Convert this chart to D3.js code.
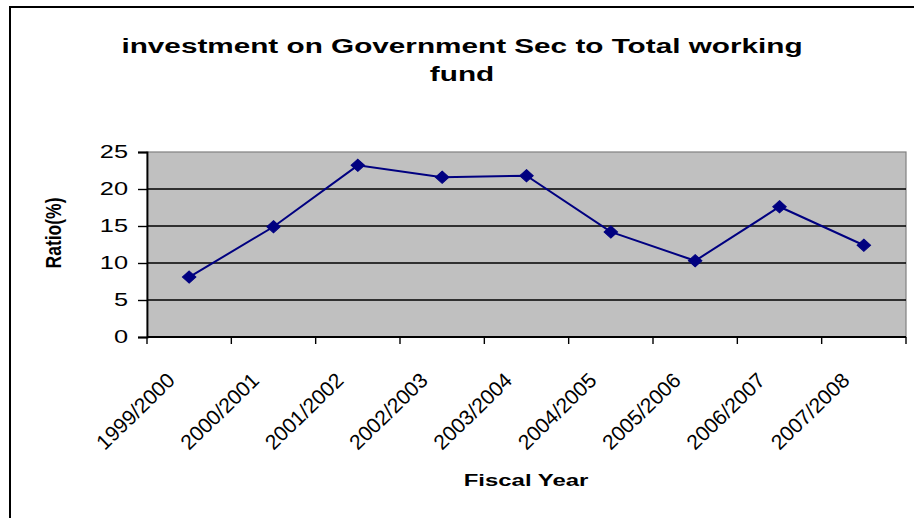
<!DOCTYPE html>
<html>
<head>
<meta charset="utf-8">
<script src="https://cdn.jsdelivr.net/npm/d3@7"></script>
<style>
  html, body { margin: 0; padding: 0; background: #fff; }
  svg { display: block; }
  text { font-family: "Liberation Sans", Arial, sans-serif; fill: #000; }
</style>
</head>
<body>
<svg id="chart" width="914" height="518"></svg>
<script>
// Fiscal years and the ratio of government securities investment to total working fund (%)
const fiscalYears = ["1999/2000", "2000/2001", "2001/2002", "2002/2003", "2003/2004",
                     "2004/2005", "2005/2006", "2006/2007", "2007/2008"];
const ratioValues = [8.1, 14.9, 23.2, 21.6, 21.8, 14.2, 10.3, 17.6, 12.4];
const yTicks = [0, 5, 10, 15, 20, 25];
const titleLines = ["investment on Government Sec to Total working", "fund"];
const xTitle = "Fiscal Year";
const yTitle = "Ratio(%)";

const W = 914, H = 518;
const plot = { left: 147, right: 906, top: 152, bottom: 337 };
const stretch = 1.45; // glyphs are drawn wide

const svg = d3.select("#chart");

// chart frame
svg.append("rect")
  .attr("x", 10).attr("y", 7)
  .attr("width", W + 20).attr("height", H + 20)
  .attr("fill", "#fff").attr("stroke", "#000").attr("stroke-width", 2);

const x = d3.scaleBand().domain(fiscalYears).range([plot.left, plot.right]).padding(0);
const y = d3.scaleLinear().domain([0, 25]).range([plot.bottom, plot.top]);
const cx = d => x(d) + x.bandwidth() / 2;

// plot background
svg.append("rect")
  .attr("x", plot.left).attr("y", plot.top)
  .attr("width", plot.right - plot.left).attr("height", plot.bottom - plot.top)
  .attr("fill", "#C0C0C0").attr("stroke", "#808080").attr("stroke-width", 1.2);

// horizontal gridlines
svg.append("g").selectAll("line")
  .data(yTicks.filter(t => t > 0 && t < 25))
  .join("line")
  .attr("x1", plot.left).attr("x2", plot.right)
  .attr("y1", d => y(d)).attr("y2", d => y(d))
  .attr("stroke", "#000").attr("stroke-width", 1.6);

// y axis
const yAxis = svg.append("g")
  .attr("transform", `translate(${plot.left},0)`)
  .call(d3.axisLeft(y).tickValues(yTicks).tickSize(9).tickPadding(10).tickFormat(d3.format("d")));
yAxis.select(".domain").attr("stroke", "#000").attr("stroke-width", 1.8);
yAxis.selectAll(".tick line").attr("stroke", "#000").attr("stroke-width", 1.4);
yAxis.selectAll(".tick text")
  .attr("font-size", 17.5)
  .attr("font-family", "Liberation Sans, Arial, sans-serif")
  .attr("fill", "#000")
  .each(function () {
    const t = d3.select(this);
    const dx = +t.attr("x");
    t.attr("x", null)
     .attr("transform", `translate(${dx},0) scale(${stretch},1)`);
  });

// x axis with ticks at category boundaries
const xAxis = svg.append("g").attr("transform", `translate(0,${plot.bottom})`);
xAxis.append("line")
  .attr("x1", plot.left).attr("x2", plot.right)
  .attr("y1", 0).attr("y2", 0)
  .attr("stroke", "#000").attr("stroke-width", 1.8);
const bounds = fiscalYears.map(d => x(d)).concat([plot.right]);
xAxis.selectAll("line.tk")
  .data(bounds)
  .join("line").attr("class", "tk")
  .attr("x1", d => d).attr("x2", d => d)
  .attr("y1", 0).attr("y2", 7)
  .attr("stroke", "#000").attr("stroke-width", 1.4);

// rotated category labels
svg.append("g").selectAll("text")
  .data(fiscalYears)
  .join("text")
  .attr("text-anchor", "end")
  .attr("font-size", 21)
  .attr("transform", d => `translate(${cx(d) - 13},${plot.bottom + 45}) rotate(-44)`)
  .text(d => d);

// series line
const line = d3.line()
  .x((d, i) => cx(fiscalYears[i]))
  .y(d => y(d));
svg.append("path")
  .datum(ratioValues)
  .attr("d", line)
  .attr("fill", "none")
  .attr("stroke", "#000080")
  .attr("stroke-width", 2);

// diamond markers
const diamond = d3.symbol().type(d3.symbolDiamond2).size(105);
svg.append("g").selectAll("path")
  .data(ratioValues)
  .join("path")
  .attr("d", diamond)
  .attr("transform", (d, i) => `translate(${cx(fiscalYears[i])},${y(d)}) scale(1.05,0.95)`)
  .attr("fill", "#000080")
  .attr("stroke", "#000080")
  .attr("stroke-width", 1);

// title
svg.append("g").selectAll("text")
  .data(titleLines)
  .join("text")
  .attr("text-anchor", "middle")
  .attr("font-size", 20.5)
  .attr("font-weight", "bold")
  .attr("transform", (d, i) => `translate(462,${53 + i * 28}) scale(${stretch},1)`)
  .text(d => d);

// axis titles
svg.append("text")
  .attr("text-anchor", "middle")
  .attr("font-size", 16.5)
  .attr("font-weight", "bold")
  .attr("transform", `translate(526,486) scale(${stretch},1)`)
  .text(xTitle);

svg.append("text")
  .attr("text-anchor", "middle")
  .attr("font-size", 17.5)
  .attr("font-weight", "bold")
  .attr("transform", `translate(61,233) scale(1.25,1) rotate(-90)`)
  .text(yTitle);
</script>
</body>
</html>
